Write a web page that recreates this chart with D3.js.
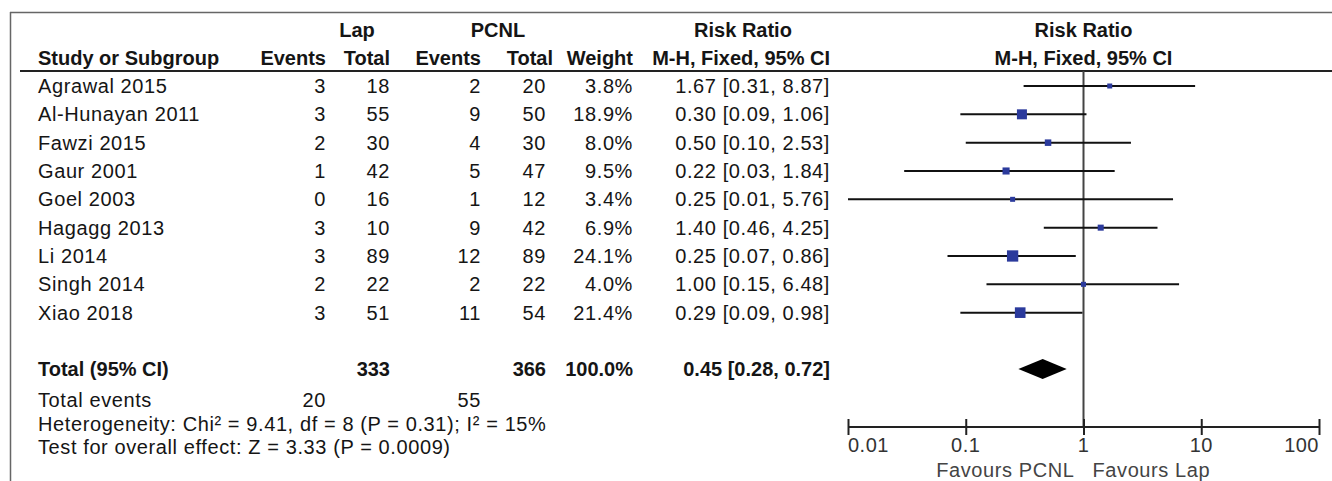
<!DOCTYPE html>
<html>
<head>
<meta charset="utf-8">
<script src="https://cdn.jsdelivr.net/npm/d3@7"></script>
<style>
  html, body { margin: 0; padding: 0; background: #fff; }
  svg { display: block; }
  text { font-family: "Liberation Sans", Arial, sans-serif; }
</style>
</head>
<body>
<script>
// ---------------- DATA ----------------
const studies    = ["Agrawal 2015", "Al-Hunayan 2011", "Fawzi 2015", "Gaur 2001", "Goel 2003",
                    "Hagagg 2013", "Li 2014", "Singh 2014", "Xiao 2018"];
const lapEvents  = [3, 3, 2, 1, 0, 3, 3, 2, 3];
const lapTotal   = [18, 55, 30, 42, 16, 10, 89, 22, 51];
const pcnlEvents = [2, 9, 4, 5, 1, 9, 12, 2, 11];
const pcnlTotal  = [20, 50, 30, 47, 12, 42, 89, 22, 54];
const weights    = [3.8, 18.9, 8.0, 9.5, 3.4, 6.9, 24.1, 4.0, 21.4];
const rr         = [1.67, 0.30, 0.50, 0.22, 0.25, 1.40, 0.25, 1.00, 0.29];
const rrLow      = [0.31, 0.09, 0.10, 0.03, 0.01, 0.46, 0.07, 0.15, 0.09];
const rrHigh     = [8.87, 1.06, 2.53, 1.84, 5.76, 4.25, 0.86, 6.48, 0.98];

const totalLap = 333, totalPcnl = 366, totalWeight = "100.0%";
const pooled = { rr: 0.45, low: 0.28, high: 0.72 };
const totalEventsLap = 20, totalEventsPcnl = 55;
const heterogeneityText = "Heterogeneity: Chi² = 9.41, df = 8 (P = 0.31); I² = 15%";
const overallText = "Test for overall effect: Z = 3.33 (P = 0.0009)";

const axisTicks  = [0.01, 0.1, 1, 10, 100];
const axisLabels = ["0.01", "0.1", "1", "10", "100"];
const favoursLeft = "Favours PCNL", favoursRight = "Favours Lap";

// ---------------- LAYOUT ----------------
const W = 1332, H = 481;
const svg = d3.select("body").append("svg").attr("width", W).attr("height", H);

const FS = 20;
const TXT = "#151515";
function txt(x, y, s, o = {}) {
  return svg.append("text")
    .attr("x", x).attr("y", y)
    .attr("text-anchor", o.anchor || "start")
    .attr("font-size", o.size || FS)
    .attr("font-weight", o.bold ? "bold" : "normal")
    .attr("letter-spacing", o.ls != null ? o.ls : (o.bold ? 0 : 0.6))
    .attr("fill", o.fill || TXT)
    .text(s);
}

// frame
svg.append("line").attr("x1", 10).attr("x2", W).attr("y1", 12.5).attr("y2", 12.5)
  .attr("stroke", "#666").attr("stroke-width", 1.5);
svg.append("line").attr("x1", 10.5).attr("x2", 10.5).attr("y1", 12).attr("y2", H)
  .attr("stroke", "#666").attr("stroke-width", 1.5);
// header rule
svg.append("line").attr("x1", 20).attr("x2", W).attr("y1", 71).attr("y2", 71)
  .attr("stroke", "#222").attr("stroke-width", 2);

// columns (right edges)
const col = { name: 38, lapEv: 326, lapTot: 390, pcEv: 481, pcTot: 546, pcTotHead: 553, wt: 633, ci: 830, ciMid: 743 };

// header
const h1 = 37, h2 = 65;
txt(357, h1, "Lap", { bold: true, anchor: "middle" });
txt(498, h1, "PCNL", { bold: true, anchor: "middle" });
txt(col.ciMid, h1, "Risk Ratio", { bold: true, anchor: "middle" });
txt(col.name, h2, "Study or Subgroup", { bold: true });
txt(col.lapEv, h2, "Events", { bold: true, anchor: "end" });
txt(col.lapTot, h2, "Total", { bold: true, anchor: "end" });
txt(col.pcEv, h2, "Events", { bold: true, anchor: "end" });
txt(col.pcTotHead, h2, "Total", { bold: true, anchor: "end" });
txt(col.wt, h2, "Weight", { bold: true, anchor: "end" });
txt(col.ci, h2, "M-H, Fixed, 95% CI", { bold: true, anchor: "end" });

// plot scales
const x = d3.scaleLog().domain([0.01, 100]).range([848, 1319]);
const yRow = d3.scaleLinear().domain([0, 1]).range([86, 86 + 28.33]);
const yTotal = 369;
const axisY = 427;

txt(x(1), h1, "Risk Ratio", { bold: true, anchor: "middle" });
txt(x(1), h2, "M-H, Fixed, 95% CI", { bold: true, anchor: "middle" });

const f2 = d3.format(".2f");
const ciStr = (a, b, c) => `${f2(a)} [${f2(b)}, ${f2(c)}]`;

// study rows
studies.forEach((s, i) => {
  const yc = yRow(i), yb = yc + 7;
  txt(col.name, yb, s);
  txt(col.lapEv, yb, lapEvents[i], { anchor: "end" });
  txt(col.lapTot, yb, lapTotal[i], { anchor: "end" });
  txt(col.pcEv, yb, pcnlEvents[i], { anchor: "end" });
  txt(col.pcTot, yb, pcnlTotal[i], { anchor: "end" });
  txt(col.wt, yb, weights[i].toFixed(1) + "%", { anchor: "end" });
  txt(col.ci, yb, ciStr(rr[i], rrLow[i], rrHigh[i]), { anchor: "end" });
});

// vertical line of no effect
svg.append("line").attr("x1", x(1)).attr("x2", x(1)).attr("y1", 71).attr("y2", axisY)
  .attr("stroke", "#444").attr("stroke-width", 2);

// CI lines and squares
const g = svg.append("g");
g.selectAll("line.ci").data(studies).join("line").attr("class", "ci")
  .attr("x1", (d, i) => x(rrLow[i])).attr("x2", (d, i) => x(rrHigh[i]))
  .attr("y1", (d, i) => yRow(i)).attr("y2", (d, i) => yRow(i))
  .attr("stroke", "#111").attr("stroke-width", 2);
const side = w => Math.max(5, 2.3 * Math.sqrt(w));
g.selectAll("rect.pt").data(studies).join("rect").attr("class", "pt")
  .attr("x", (d, i) => x(rr[i]) - side(weights[i]) / 2)
  .attr("y", (d, i) => yRow(i) - side(weights[i]) / 2)
  .attr("width", (d, i) => side(weights[i]))
  .attr("height", (d, i) => side(weights[i]))
  .attr("fill", "#2b3a9c");

// totals
const yb = yTotal + 7;
txt(col.name, yb, "Total (95% CI)", { bold: true });
txt(col.lapTot, yb, totalLap, { bold: true, anchor: "end" });
txt(col.pcTot, yb, totalPcnl, { bold: true, anchor: "end" });
txt(col.wt, yb, totalWeight, { bold: true, anchor: "end" });
txt(col.ci, yb, ciStr(pooled.rr, pooled.low, pooled.high), { bold: true, anchor: "end" });

const dh = 10;
svg.append("path")
  .attr("d", `M${x(pooled.low)},${yTotal} L${x(pooled.rr)},${yTotal - dh} L${x(pooled.high)},${yTotal} L${x(pooled.rr)},${yTotal + dh} Z`)
  .attr("fill", "#000");

txt(col.name, 407, "Total events");
txt(col.lapEv, 407, totalEventsLap, { anchor: "end" });
txt(col.pcEv, 407, totalEventsPcnl, { anchor: "end" });
txt(col.name, 431, heterogeneityText);
txt(col.name, 454, overallText);

// axis
const axis = d3.axisBottom(x).tickValues(axisTicks).tickSize(0).tickFormat("");
const ag = svg.append("g").attr("transform", `translate(0,${axisY})`).call(axis);
ag.select(".domain").attr("stroke", "#222").attr("stroke-width", 2).attr("d", `M${x(0.01)},0H${x(100)}`);
ag.selectAll(".tick").append("line").attr("y1", -8).attr("y2", 8)
  .attr("stroke", "#222").attr("stroke-width", 2);
axisTicks.forEach((t, i) => {
  const anchor = i === 0 ? "start" : (i === axisTicks.length - 1 ? "end" : "middle");
  txt(x(t), 452, axisLabels[i], { anchor, fill: "#333", ls: 0.5 });
});
txt(x(1) - 9, 477, favoursLeft, { anchor: "end", fill: "#444" });
txt(x(1) + 9, 477, favoursRight, { anchor: "start", fill: "#444" });
</script>
</body>
</html>
